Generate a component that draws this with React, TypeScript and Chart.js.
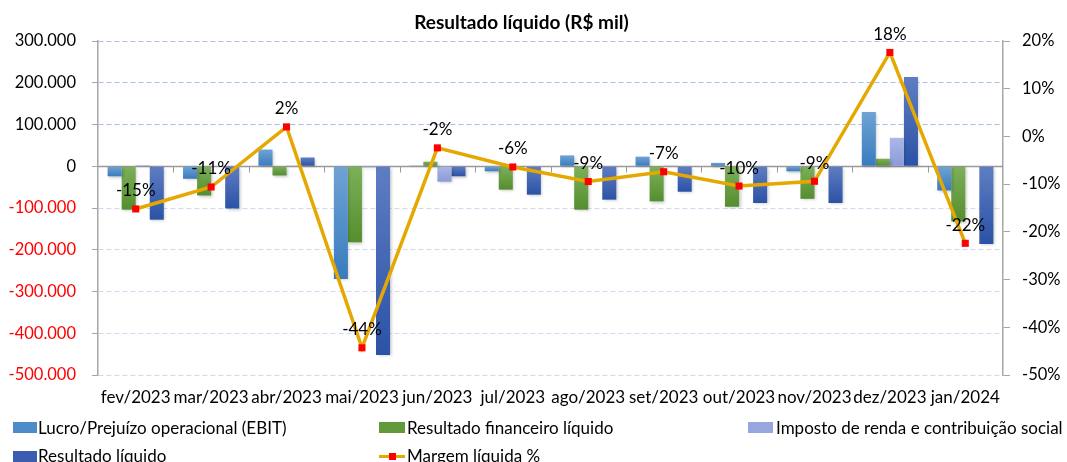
import React, { useEffect, useRef } from "react";
import { Chart, registerables } from "chart.js";

Chart.register(...registerables);

const categories = [
  "fev/2023", "mar/2023", "abr/2023", "mai/2023", "jun/2023", "jul/2023",
  "ago/2023", "set/2023", "out/2023", "nov/2023", "dez/2023", "jan/2024",
];
const ebit = [-24000, -30000, 40000, -270000, 2000, -12000, 26000, 23000, 8000, -12000, 130000, -58000];
const resultadoFinanceiro = [-104000, -70000, -22000, -182000, 11000, -56000, -104000, -84000, -97000, -78000, 18000, -132000];
const impostoRenda = [3000, 0, 2000, -3000, -37000, 1000, 0, 2000, 0, 0, 68000, -1000];
const resultadoLiquido = [-128000, -101000, 21000, -452000, -24000, -68000, -80000, -61000, -88000, -88000, 214000, -186000];
const margemLiquida = [-15.2, -10.6, 2.0, -44.3, -2.4, -6.4, -9.45, -7.4, -10.4, -9.4, 17.6, -22.4];

const leftTicks = { min: -500000, max: 300000, step: 100000 };
const rightTicks = { min: -50, max: 20, step: 10 };

const FONT = "Lato, 'Noto Sans', sans-serif";

function formatThousands(v: number): string {
  const neg = v < 0;
  const s = Math.abs(Math.round(v)).toString().replace(/\B(?=(\d{3})+(?!\d))/g, ".");
  return (neg ? "-" : "") + s;
}

function barGrad(top: string, bottom: string) {
  return (ctx: any) => {
    const chart = ctx.chart;
    const area = chart.chartArea;
    if (!area || ctx.type !== "data") return top;
    const ys = chart.scales.y;
    const v = ctx.raw as number;
    const p0 = ys.getPixelForValue(0);
    const p1 = ys.getPixelForValue(v);
    const y0 = Math.min(p0, p1);
    const y1 = Math.max(p0, p1);
    if (y1 - y0 < 2) return top;
    const g = chart.ctx.createLinearGradient(0, y0, 0, y1);
    g.addColorStop(0, top);
    g.addColorStop(1, bottom);
    return g;
  };
}

const decorPlugin = {
  id: "decor",
  beforeDatasetsDraw(chart: any) {
    const { ctx, chartArea } = chart;
    const ys = chart.scales.y;
    const y0 = Math.round(ys.getPixelForValue(0)) + 0.5;
    ctx.save();
    ctx.strokeStyle = "#999999";
    ctx.lineWidth = 1.5;
    ctx.beginPath();
    ctx.moveTo(chartArea.left, y0);
    ctx.lineTo(chartArea.right, y0);
    ctx.stroke();
    ctx.lineWidth = 1;
    const n = categories.length;
    const w = (chartArea.right - chartArea.left) / n;
    for (let i = 1; i < n; i++) {
      const x = Math.round(chartArea.left + i * w) + 0.5;
      ctx.beginPath();
      ctx.moveTo(x, y0);
      ctx.lineTo(x, y0 + 6);
      ctx.stroke();
    }
    ctx.restore();
  },
  beforeDatasetDraw(chart: any, args: any) {
    if (args.meta.type === "bar") {
      const ctx = chart.ctx;
      ctx.save();
      ctx.shadowColor = "rgba(0,0,0,0.22)";
      ctx.shadowBlur = 3;
      ctx.shadowOffsetX = 1.5;
      ctx.shadowOffsetY = 1.5;
    }
  },
  afterDatasetDraw(chart: any, args: any) {
    if (args.meta.type === "bar") {
      chart.ctx.restore();
    }
  },
  afterDatasetsDraw(chart: any) {
    const { ctx } = chart;
    const meta = chart.getDatasetMeta(4);
    ctx.save();
    ctx.fillStyle = "#000";
    ctx.font = `17px ${FONT}`;
    ctx.textAlign = "center";
    ctx.textBaseline = "middle";
    meta.data.forEach((pt: any, i: number) => {
      const v = margemLiquida[i];
      ctx.fillText(`${Math.round(v)}%`, pt.x, pt.y - 18);
    });
    ctx.restore();
  },
};

const legendItems = [
  { label: "Lucro/Prejuízo operacional (EBIT)", color: "#4F8BC8", left: 13, boxW: 24, textLeft: 38, center: 427.5, type: "box" },
  { label: "Resultado financeiro líquido", color: "#62993D", left: 379, boxW: 26, textLeft: 407, center: 427.5, type: "box" },
  { label: "Imposto de renda e contribuição social", color: "#97A7DE", left: 748, boxW: 25, textLeft: 776, center: 427.5, type: "box" },
  { label: "Resultado líquido", color: "#3C5CB0", left: 13, boxW: 24, textLeft: 38, center: 456, type: "box" },
  { label: "Margem líquida %", color: "#E5A800", left: 379, boxW: 26, textLeft: 407, center: 456, type: "line" },
];

export default function App() {
  const ref = useRef<HTMLCanvasElement | null>(null);

  useEffect(() => {
    if (!ref.current) return;
    const chart = new Chart(ref.current, {
      type: "bar",
      data: {
        labels: categories,
        datasets: [
          { type: "bar", label: "Lucro/Prejuízo operacional (EBIT)", data: ebit, backgroundColor: barGrad("#6FA3D3", "#3A7BBE"), yAxisID: "y", order: 1, categoryPercentage: 0.745, barPercentage: 1 },
          { type: "bar", label: "Resultado financeiro líquido", data: resultadoFinanceiro, backgroundColor: barGrad("#7DB05A", "#548E2E"), yAxisID: "y", order: 1, categoryPercentage: 0.745, barPercentage: 1 },
          { type: "bar", label: "Imposto de renda e contribuição social", data: impostoRenda, backgroundColor: barGrad("#AAB7E7", "#8A9BDA"), yAxisID: "y", order: 1, categoryPercentage: 0.745, barPercentage: 1 },
          { type: "bar", label: "Resultado líquido", data: resultadoLiquido, backgroundColor: barGrad("#5F7DC2", "#2B52A6"), yAxisID: "y", order: 1, categoryPercentage: 0.745, barPercentage: 1 },
          {
            type: "line", label: "Margem líquida %", data: margemLiquida, yAxisID: "y1", order: 0,
            borderColor: "#E5A800", borderWidth: 3.5, backgroundColor: "#FF0000",
            pointStyle: "rect", pointRadius: 5, pointBackgroundColor: "#FF0000", pointBorderColor: "#FF0000", pointBorderWidth: 0,
            tension: 0, fill: false,
          } as any,
        ],
      },
      options: {
        animation: false,
        responsive: false,
        maintainAspectRatio: false,
        layout: { padding: { top: 41, left: 0, right: 0, bottom: 0 } },
        plugins: { legend: { display: false }, title: { display: false }, tooltip: { enabled: false } },
        scales: {
          x: {
            type: "category",
            offset: true,
            grid: { display: false, drawTicks: false },
            border: { display: false },
            ticks: { color: "#000", font: { size: 17, family: FONT }, padding: 12, maxRotation: 0, autoSkip: false },
            afterFit: (s: any) => { s.height = 87; },
          },
          y: {
            type: "linear",
            position: "left",
            min: leftTicks.min,
            max: leftTicks.max,
            ticks: {
              stepSize: leftTicks.step,
              callback: (v: any) => formatThousands(Number(v)),
              color: (c: any) => (c.tick && c.tick.value < 0 ? "#FF0000" : "#000000"),
              font: { size: 16.5, family: FONT },
              padding: 16,
            },
            grid: {
              color: (c: any) => {
                const v = c.tick ? c.tick.value : 0;
                if (v === 0) return "rgba(0,0,0,0)";
                return v > 0 ? "#A9BCEC" : "#D2D8F2";
              },
              lineWidth: 1,
              drawTicks: true,
              tickLength: 6,
              tickColor: "#A6A6A6",
              tickWidth: 1,
            },
            border: { display: true, color: "#A6A6A6", width: 1.5, dash: [5, 3] },
            afterFit: (s: any) => { s.width = 98; },
          },
          y1: {
            type: "linear",
            position: "right",
            min: rightTicks.min,
            max: rightTicks.max,
            ticks: {
              stepSize: rightTicks.step,
              callback: (v: any) => `${v}%`,
              color: "#000",
              font: { size: 16.5, family: FONT },
              padding: 12,
            },
            grid: { drawOnChartArea: false, drawTicks: true, tickLength: 7, tickColor: "#A6A6A6", color: "#A6A6A6" },
            border: { display: true, color: "#A6A6A6", width: 1.5 },
            afterFit: (s: any) => { s.width = 64; },
          },
        },
      },
      plugins: [decorPlugin],
    });
    return () => chart.destroy();
  }, []);

  return (
    <div style={{ position: "fixed", left: 0, top: 0, width: 1067, height: 462, background: "#fff", overflow: "hidden", fontFamily: FONT }}>
      <canvas ref={ref} width={1067} height={462} style={{ position: "absolute", left: 0, top: 0, width: 1067, height: 462 }} />
      <div style={{ position: "absolute", left: 0, width: 1043, top: 10, textAlign: "center", fontWeight: 700, fontSize: 19, lineHeight: "24px", color: "#000" }}>
        Resultado líquido (R$ mil)
      </div>
      {legendItems.map((it) => (
        <React.Fragment key={it.label}>
          {it.type === "box" ? (
            <div style={{ position: "absolute", left: it.left, top: it.center - 5.5, width: it.boxW, height: 11, background: it.color }} />
          ) : (
            <>
              <div style={{ position: "absolute", left: it.left, top: it.center - 1.5, width: it.boxW, height: 3, background: it.color }} />
              <div style={{ position: "absolute", left: it.left + it.boxW / 2 - 3.5, top: it.center - 3.5, width: 7, height: 7, background: "#FF0000" }} />
            </>
          )}
          <div style={{ position: "absolute", left: it.textLeft, top: it.center - 10, height: 20, lineHeight: "20px", fontSize: 17, color: "#000", whiteSpace: "nowrap" }}>
            {it.label}
          </div>
        </React.Fragment>
      ))}
    </div>
  );
}
